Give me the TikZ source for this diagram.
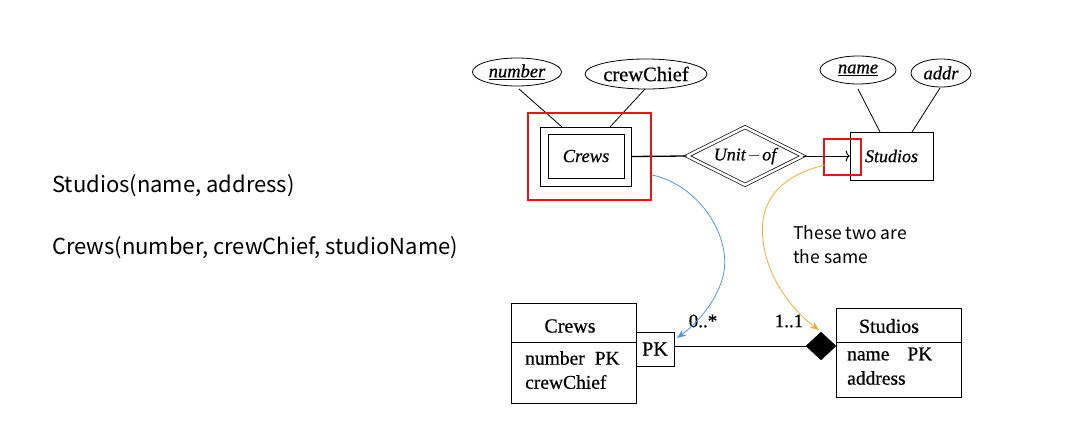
\documentclass[tikz,border=0pt]{standalone}
\usepackage{fontspec}
\setmainfont{Liberation Serif}[FakeBold=0.6]
\newfontfamily\notefont{Noto Sans CJK KR}
\usetikzlibrary{shapes.geometric,arrows.meta}
\definecolor{hlred}{RGB}{230,20,20}
\definecolor{curveblue}{RGB}{80,150,230}
\definecolor{curveorange}{RGB}{250,170,50}
\tikzset{
  attr/.style={draw, ellipse, line width=0.8pt, inner sep=0pt, font=\fontsize{18.5}{18.5}\selectfont\itshape},
  link/.style={draw, line width=0.8pt},
  umlbox/.style={draw, line width=0.9pt},
  hl/.style={draw=hlred, line width=2.2pt},
  umltext/.style={font=\fontsize{19.5}{19.5}\selectfont, inner sep=0pt, anchor=west},
  note/.style={font=\notefont\fontsize{22}{22}\selectfont, inner sep=0pt, anchor=west},
  small/.style={font=\notefont\fontsize{17.5}{17.5}\selectfont, inner sep=0pt, anchor=west},
}
\begin{document}
\begin{tikzpicture}[x=1pt,y=-1pt]
\useasboundingbox (0,0) rectangle (1089,434);
% left text
\node[note] (rel1) at (52,186) {Studios(name, address)};
\node[note] (rel2) at (52,248) {Crews(number, crewChief, studioName)};

% ER diagram top
\node[attr, minimum width=89pt, minimum height=28pt] (num) at (517,72) {\underline{number}};
\node[attr, minimum width=122pt, minimum height=30pt, font=\fontsize{20.5}{20.5}\selectfont] (chief) at (646,74) {crewChief};
\node[attr, minimum width=76pt, minimum height=28pt] (nm) at (858,70) {\underline{name}};
\node[attr, minimum width=60pt, minimum height=28pt] (addr) at (941,73) {addr};

\node[draw, line width=1pt, minimum width=91pt, minimum height=59pt] (crewsO) at (585.5,156.5) {};
\node[draw, line width=0.8pt, minimum width=76pt, minimum height=44pt, font=\fontsize{18.5}{18.5}\selectfont\itshape] (crews) at (586,156) {Crews};

\node[diamond, draw, line width=0.7pt, double, double distance=2.5pt, aspect=2, minimum width=116pt, minimum height=58pt, inner sep=0pt, font=\fontsize{18}{18}\selectfont\itshape] (unit) at (745,156) {Unit\kern1.5pt$-$\kern1.5pt of};

\node[draw, line width=0.8pt, minimum width=83pt, minimum height=48pt, font=\fontsize{18}{18}\selectfont\itshape] (stud) at (891.5,156) {Studios};

\coordinate (n1) at (519,89); \coordinate (n2) at (562,127);
\coordinate (c1) at (645,89); \coordinate (c2) at (610,127);
\coordinate (m1) at (858,89); \coordinate (m2) at (880,132);
\coordinate (a1) at (940,88); \coordinate (a2) at (912,132);
\draw[link] (n1) -- (n2);
\draw[link] (c1) -- (c2);
\draw[link] (m1) -- (m2);
\draw[link] (a1) -- (a2);
\draw[line width=1.3pt] (crewsO.east) -- (unit.west);
\draw[line width=1pt, -{To[length=4pt,width=11pt]}] (unit.east) -- (stud.west);

% highlight boxes
\node[hl, minimum width=123pt, minimum height=87pt] (hlbig) at (589.5,156.5) {};
\node[hl, minimum width=37pt, minimum height=36pt] (hlsmall) at (842.5,157) {};

% UML bottom
\node[umlbox, minimum width=125pt, minimum height=100pt, anchor=north west] (ucrews) at (511,303) {};
\draw[umlbox] (511,342) -- (636,342);
\node[font=\fontsize{20}{20}\selectfont] (ucrewsT) at (570,326) {Crews};
\node[umltext] (ucr1) at (525,358) {number\hspace{10pt}PK};
\node[umltext] (ucr2) at (525,382) {crewChief};

\node[umlbox, minimum width=38pt, minimum height=34pt, font=\fontsize{20}{20}\selectfont] (pk) at (655,349) {PK};

\node[umlbox, minimum width=125pt, minimum height=89pt, anchor=north west] (ustud) at (836,308) {};
\draw[umlbox] (836,342) -- (961,342);
\node[font=\fontsize{20}{20}\selectfont] (ustudT) at (889,326) {Studios};
\node[umltext] (us1) at (847,354) {name\hspace{18pt}PK};
\node[umltext] (us2) at (847,378) {address};

\node[diamond, fill=black, draw, minimum width=30pt, minimum height=28pt, inner sep=0pt] (agg) at (821,346) {};
\draw[line width=0.9pt] (pk.east |- agg.west) -- (agg.west);

\node[font=\fontsize{19}{19}\selectfont] (lbl1) at (703,321) {0..*};
\node[font=\fontsize{19}{19}\selectfont] (lbl2) at (789,321) {1..1};

% note
\node[small] (same1) at (793,233) {These two are};
\node[small] (same2) at (793,257) {the same};

% curves
\coordinate (bs) at (652,175);
\coordinate (be) at (677,338);
\coordinate (os) at (825,165);
\coordinate (oe) at (819,330);
\draw[curveblue, line width=0.8pt, -{Stealth[length=9pt,width=7pt]}] (bs) .. controls (700,185) and (735,240) .. (722,280) .. controls (714,305) and (695,325) .. (be);
\draw[curveorange, line width=0.8pt, -{Stealth[length=9pt,width=7pt]}] (os) .. controls (782,175) and (758,200) .. (763,240) .. controls (768,285) and (800,316) .. (oe);
\end{tikzpicture}
\end{document}
